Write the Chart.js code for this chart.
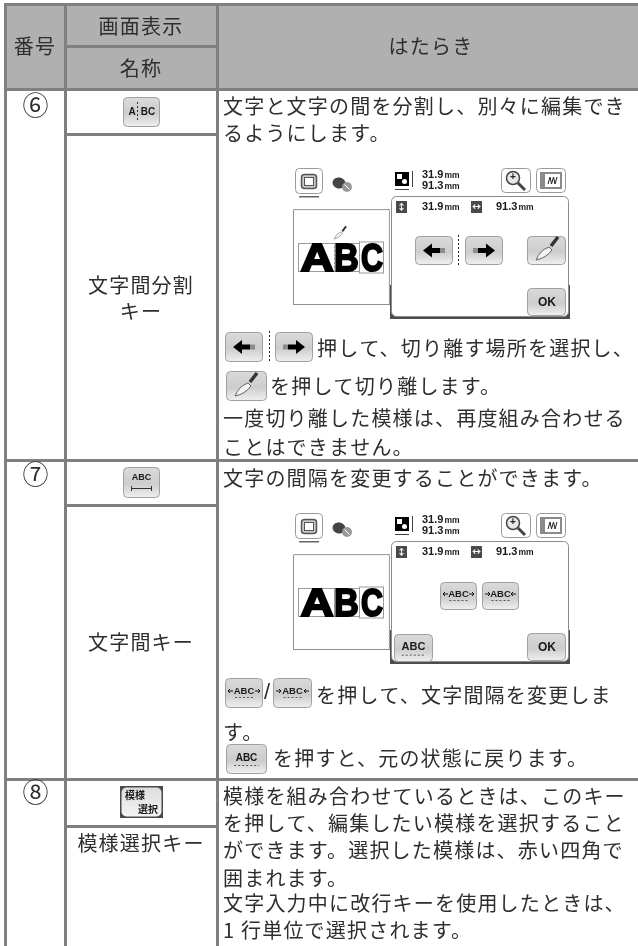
<!DOCTYPE html>
<html lang="ja">
<head>
<meta charset="utf-8">
<title>文字編集キー</title>
<script src="https://cdn.jsdelivr.net/npm/chart.js@4"></script>
<style>
    html, body { margin: 0; padding: 0; background: #fff; }
    canvas { display: block; }
</style>
</head>
<body>
<canvas id="tableChart" width="638" height="946"></canvas>
<script>
// table content
const headerLabels = ['番号', '画面表示', '名称', 'はたらき'];
const rowNumbers = ['⑥', '⑦', '⑧'];
const keyNames = ['文字間分割', 'キー', '文字間キー', '模様選択キー'];
const descriptionLines = [
    '文字と文字の間を分割し、別々に編集でき',
    'るようにします。',
    '押して、切り離す場所を選択し、',
    'を押して切り離します。',
    '一度切り離した模様は、再度組み合わせる',
    'ことはできません。',
    '文字の間隔を変更することができます。',
    'を押して、文字間隔を変更しま',
    'す。',
    'を押すと、元の状態に戻ります。',
    '模様を組み合わせているときは、このキー',
    'を押して、編集したい模様を選択すること',
    'ができます。選択した模様は、赤い四角で',
    '囲まれます。',
    '文字入力中に改行キーを使用したときは、',
    '1 行単位で選択されます。'
];
const screenSizes = ['31.9', '91.3'];
const sizeUnit = 'mm';

// layout, in page pixels
const headerX = [35, 141, 141, 431];
const headerY = [46, 26, 68, 46];
const numberY = [105, 474, 792];
const keyNameY = [285, 311, 642, 843];
const descriptionX = [223, 223, 317, 270, 223, 223, 223, 316, 223, 273, 223, 223, 223, 223, 223, 223];
const descriptionY = [106, 133, 348, 386, 418, 447, 478, 695, 732, 758, 796, 823, 850, 878, 903, 930];
const verticalRules = [5.5, 65.5, 217.5];
const fullRules = [4.5, 89.5, 460.5, 779.5];
const keyRules = [46.5, 134.5, 505.5, 826.5];

const ruleColor = '#808080';
const headerColor = '#b0b0b0';
const textColor = '#2e2e2e';
const jpFont = '"Noto Sans CJK JP", "Noto Sans", sans-serif';
const latinFont = '"Liberation Sans", Arial, sans-serif';

function ruleDataset(x1, y1, x2, y2) {
    return {
        data: [{ x: x1, y: y1 }, { x: x2, y: y2 }],
        borderColor: ruleColor,
        borderWidth: 3,
        pointRadius: 0,
        showLine: true,
        clip: false
    };
}

function buildRules() {
    const rules = [];
    verticalRules.forEach(x => rules.push(ruleDataset(x, 3, x, 946)));
    fullRules.forEach(y => rules.push(ruleDataset(4, y, 638, y)));
    keyRules.forEach(y => rules.push(ruleDataset(67, y, 216, y)));
    return rules;
}

function roundRect(ctx, x, y, w, h, r) {
    ctx.beginPath();
    ctx.roundRect(x, y, w, h, r);
}

function drawButton(ctx, x, y, w, h) {
    const grad = ctx.createLinearGradient(0, y, 0, y + h);
    grad.addColorStop(0, '#dadada');
    grad.addColorStop(0.55, '#cdcdcd');
    grad.addColorStop(1, '#f1f1f1');
    roundRect(ctx, x + 0.5, y + 0.5, w - 1, h - 1, 4);
    ctx.fillStyle = grad;
    ctx.fill();
    ctx.strokeStyle = '#a0a0a0';
    ctx.lineWidth = 1;
    ctx.stroke();
}

function drawOutlineButton(ctx, x, y, w, h) {
    roundRect(ctx, x + 0.5, y + 0.5, w - 1, h - 1, 4);
    ctx.fillStyle = '#fff';
    ctx.fill();
    ctx.strokeStyle = '#9a9a9a';
    ctx.lineWidth = 1;
    ctx.stroke();
}

function drawLabel(ctx, text, x, y, font, color) {
    ctx.font = font;
    ctx.fillStyle = color || '#1a1a1a';
    ctx.textAlign = 'center';
    ctx.textBaseline = 'middle';
    ctx.fillText(text, x, y);
}

function drawArrow(ctx, cx, cy, dir, scale) {
    // short grey tail, black shaft and head
    ctx.save();
    ctx.translate(cx, cy);
    ctx.scale(dir * scale, scale);
    ctx.fillStyle = '#8c8c8c';
    ctx.fillRect(-11, -2.5, 5, 5);
    ctx.fillStyle = '#000';
    ctx.beginPath();
    ctx.moveTo(-6, -2.5);
    ctx.lineTo(2, -2.5);
    ctx.lineTo(2, -7);
    ctx.lineTo(11, 0);
    ctx.lineTo(2, 7);
    ctx.lineTo(2, 2.5);
    ctx.lineTo(-6, 2.5);
    ctx.closePath();
    ctx.fill();
    ctx.restore();
}

function drawKnife(ctx, x, y, scale) {
    // x, y is the tip at lower left
    ctx.save();
    ctx.translate(x, y);
    ctx.scale(scale, scale);
    ctx.strokeStyle = '#666';
    ctx.lineWidth = 1;
    ctx.fillStyle = '#f4f4f4';
    ctx.beginPath();
    ctx.moveTo(0, 0);
    ctx.quadraticCurveTo(4, -10, 13, -13);
    ctx.lineTo(16, -10);
    ctx.quadraticCurveTo(10, -2, 0, 0);
    ctx.closePath();
    ctx.fill();
    ctx.stroke();
    ctx.strokeStyle = '#333';
    ctx.lineWidth = 3.5;
    ctx.beginPath();
    ctx.moveTo(15, -14);
    ctx.lineTo(22, -23);
    ctx.stroke();
    ctx.restore();
}

function drawDashedLine(ctx, x1, y1, x2, y2, color) {
    ctx.save();
    ctx.strokeStyle = color;
    ctx.lineWidth = 1;
    ctx.setLineDash([2, 2]);
    ctx.beginPath();
    ctx.moveTo(x1, y1);
    ctx.lineTo(x2, y2);
    ctx.stroke();
    ctx.restore();
}

function drawSpacingLabel(ctx, x, y, w, inward) {
    // small ABC with arrows on both sides, dotted underline
    const cx = x + w / 2;
    drawLabel(ctx, 'ABC', cx, y - 1, 'bold 9.5px ' + latinFont);
    ctx.strokeStyle = '#111';
    ctx.lineWidth = 1;
    const sides = [-1, 1];
    sides.forEach(s => {
        const a = cx + s * (w / 2 - 8);
        const b = cx + s * (w / 2 - 3);
        const tip = inward ? a : b;
        const back = inward ? 1 : -1;
        ctx.beginPath();
        ctx.moveTo(a, y - 1);
        ctx.lineTo(b, y - 1);
        ctx.moveTo(tip + s * back * 2, y - 3);
        ctx.lineTo(tip, y - 1);
        ctx.lineTo(tip + s * back * 2, y + 1);
        ctx.stroke();
    });
    drawDashedLine(ctx, cx - 9, y + 5.5, cx + 9, y + 5.5, '#555');
}

function drawFrameIcon(ctx, x, y) {
    drawOutlineButton(ctx, x, y, 28, 26);
    ctx.strokeStyle = '#555';
    ctx.lineWidth = 1.5;
    roundRect(ctx, x + 6.5, y + 6.5, 15, 14, 3);
    ctx.fillStyle = '#c9c9c9';
    ctx.fill();
    ctx.stroke();
    ctx.lineWidth = 1;
    ctx.fillStyle = '#fff';
    ctx.fillRect(x + 10, y + 10, 8, 7);
    ctx.strokeRect(x + 9.5, y + 9.5, 9, 8);
    ctx.fillStyle = '#666';
    ctx.fillRect(x + 4, y + 28, 20, 1.5);
}

function drawSpool(ctx, x, y) {
    ctx.fillStyle = '#444';
    ctx.beginPath();
    ctx.ellipse(x, y - 1, 6.5, 5.5, 0.2, 0, Math.PI * 2);
    ctx.fill();
    ctx.fillStyle = '#9a9a9a';
    ctx.beginPath();
    ctx.arc(x + 8, y + 3, 5, 0, Math.PI * 2);
    ctx.fill();
    ctx.strokeStyle = '#fff';
    ctx.lineWidth = 1;
    ctx.beginPath();
    ctx.moveTo(x + 5.5, y + 0.5);
    ctx.lineTo(x + 10.5, y + 5.5);
    ctx.stroke();
}

function drawSizeText(ctx, value, x, y) {
    ctx.textAlign = 'left';
    ctx.textBaseline = 'middle';
    ctx.fillStyle = '#1a1a1a';
    ctx.font = 'bold 11px ' + latinFont;
    ctx.fillText(value, x, y);
    const w = ctx.measureText(value).width;
    ctx.font = 'bold 8.5px ' + latinFont;
    ctx.fillText(sizeUnit, x + w + 1, y + 0.5);
}

function drawBigAbc(ctx, y) {
    // outlined letter boxes, then the heavy letters
    ctx.strokeStyle = '#9a9a9a';
    ctx.lineWidth = 1;
    ctx.strokeRect(298.5, y + 1.5, 36, 28);
    ctx.strokeRect(334.5, y + 1.5, 25, 28);
    ctx.strokeRect(359.5, y, 24, 31);
    ctx.fillStyle = '#000';
    ctx.strokeStyle = '#000';
    ctx.lineJoin = 'miter';
    ctx.lineWidth = 2;
    ctx.textAlign = 'center';
    ctx.textBaseline = 'alphabetic';
    ctx.font = 'bold 39px ' + latinFont;
    const letters = ['A', 'B', 'C'];
    const centers = [317, 346.5, 372];
    const stretch = [1.18, 0.88, 0.78];
    letters.forEach((letter, i) => {
        ctx.save();
        ctx.translate(centers[i], y + 29);
        ctx.scale(stretch[i], 1);
        ctx.strokeText(letter, 0, 0);
        ctx.fillText(letter, 0, 0);
        ctx.restore();
    });
}

function drawScreen(ctx, dy, withCutter) {
    drawFrameIcon(ctx, 295, 168 + dy);
    drawSpool(ctx, 339, 184 + dy);

    // preview field
    ctx.fillStyle = '#fff';
    ctx.fillRect(293, 209 + dy, 96, 95);
    ctx.strokeStyle = '#8f8f8f';
    ctx.lineWidth = 1;
    ctx.strokeRect(293.5, 209.5 + dy, 96, 95);
    drawDashedLine(ctx, 293, 210 + dy, 390, 210 + dy, '#d0d0d0');
    drawDashedLine(ctx, 389, 210 + dy, 389, 304 + dy, '#d0d0d0');
    drawBigAbc(ctx, 242 + dy);
    if (withCutter) {
        drawDashedLine(ctx, 334, 240 + dy, 334, 274 + dy, '#fff');
        drawKnife(ctx, 334, 239 + dy, 0.55);
    }

    // size readout
    ctx.fillStyle = '#000';
    ctx.fillRect(395, 172 + dy, 14, 14);
    ctx.fillStyle = '#fff';
    ctx.fillRect(397, 174 + dy, 5, 5);
    ctx.beginPath();
    ctx.arc(404.5, 181.5 + dy, 2.5, 0, Math.PI * 2);
    ctx.fill();
    ctx.strokeStyle = '#444';
    ctx.lineWidth = 1;
    ctx.beginPath();
    ctx.moveTo(412.5, 171 + dy);
    ctx.lineTo(412.5, 187 + dy);
    ctx.moveTo(395, 189.5 + dy);
    ctx.lineTo(409, 189.5 + dy);
    ctx.stroke();
    drawSizeText(ctx, screenSizes[0], 422, 175 + dy);
    drawSizeText(ctx, screenSizes[1], 422, 186 + dy);

    // zoom and hoop buttons
    drawOutlineButton(ctx, 501, 168 + dy, 30, 25);
    ctx.strokeStyle = '#444';
    ctx.lineWidth = 1.5;
    ctx.fillStyle = '#e8e8e8';
    ctx.beginPath();
    ctx.arc(513, 178 + dy, 6.5, 0, Math.PI * 2);
    ctx.fill();
    ctx.stroke();
    ctx.lineWidth = 3;
    ctx.beginPath();
    ctx.moveTo(518, 183 + dy);
    ctx.lineTo(525, 190 + dy);
    ctx.stroke();
    drawLabel(ctx, '+', 513, 177.5 + dy, 'bold 10px ' + latinFont, '#222');

    drawOutlineButton(ctx, 536, 168 + dy, 30, 25);
    ctx.fillStyle = '#8a8a8a';
    ctx.fillRect(540, 172 + dy, 22, 17);
    ctx.fillStyle = '#fff';
    ctx.fillRect(545, 174 + dy, 15, 13);
    ctx.strokeStyle = '#222';
    ctx.lineWidth = 1;
    ctx.beginPath();
    ctx.moveTo(548, 184 + dy);
    ctx.lineTo(550, 177 + dy);
    ctx.lineTo(551.5, 184 + dy);
    ctx.lineTo(553.5, 177 + dy);
    ctx.lineTo(555, 184 + dy);
    ctx.lineTo(557, 177 + dy);
    ctx.stroke();

    // panel with dark lower corners
    ctx.fillStyle = '#4d4d4d';
    ctx.fillRect(390, 285 + dy, 180, 34);
    roundRect(ctx, 391.5, 196.5 + dy, 177, 120, 5);
    ctx.fillStyle = '#fff';
    ctx.fill();
    ctx.strokeStyle = '#8a8a8a';
    ctx.lineWidth = 1;
    ctx.stroke();

    ctx.fillStyle = '#4a4a4a';
    ctx.fillRect(396, 201 + dy, 11, 12);
    ctx.fillRect(471, 201 + dy, 11, 12);
    drawLabel(ctx, '↕', 401.5, 207 + dy, 'bold 9px ' + jpFont, '#fff');
    drawLabel(ctx, '↔', 476.5, 207 + dy, 'bold 9px ' + jpFont, '#fff');
    drawSizeText(ctx, screenSizes[0], 422, 207 + dy);
    drawSizeText(ctx, screenSizes[1], 496, 207 + dy);

    drawButton(ctx, 527, 288 + dy, 39, 28);
    drawLabel(ctx, 'OK', 547, 303 + dy, 'bold 12px ' + latinFont);
}

function drawCutterButtons(ctx, leftX, midX, rightX, y, h) {
    drawButton(ctx, leftX, y, 38, h);
    drawArrow(ctx, leftX + 19, y + h / 2, -1, 1);
    drawDashedLine(ctx, midX + 0.5, y - 1, midX + 0.5, y + h + 1, '#222');
    drawButton(ctx, rightX, y, 38, h);
    drawArrow(ctx, rightX + 19, y + h / 2, 1, 1);
}

function drawAbcButton(ctx, x, y, w, h, size) {
    drawButton(ctx, x, y, w, h);
    const cx = x + w / 2;
    drawLabel(ctx, 'ABC', cx, y + h / 2 - 1, 'bold ' + size + 'px ' + latinFont);
    drawDashedLine(ctx, cx - w * 0.3, y + h / 2 + size * 0.65, cx + w * 0.3, y + h / 2 + size * 0.65, '#555');
}

function drawIcons(ctx) {
    // row 6 key
    drawButton(ctx, 123, 97, 37, 30);
    drawLabel(ctx, 'A', 132, 112, 'bold 10px ' + latinFont);
    drawLabel(ctx, 'BC', 148, 112, 'bold 10px ' + latinFont);
    drawDashedLine(ctx, 137.5, 102, 137.5, 122, '#333');

    drawScreen(ctx, 0, true);
    drawCutterButtons(ctx, 415, 458, 465, 236, 29);
    drawButton(ctx, 527, 236, 39, 29);
    drawKnife(ctx, 536, 260, 1);

    drawCutterButtons(ctx, 225, 269, 275, 332, 30);
    drawButton(ctx, 226, 371, 41, 30);
    drawKnife(ctx, 235, 396, 1);

    // row 7 key
    drawButton(ctx, 123, 467, 37, 31);
    drawLabel(ctx, 'ABC', 141.5, 478, 'bold 9px ' + latinFont);
    ctx.strokeStyle = '#333';
    ctx.lineWidth = 1;
    ctx.beginPath();
    ctx.moveTo(131, 488.5);
    ctx.lineTo(152, 488.5);
    ctx.moveTo(131.5, 486);
    ctx.lineTo(131.5, 491);
    ctx.moveTo(151.5, 486);
    ctx.lineTo(151.5, 491);
    ctx.stroke();

    drawScreen(ctx, 345, false);
    drawButton(ctx, 440, 582, 37, 28);
    drawSpacingLabel(ctx, 440, 595, 37, false);
    drawButton(ctx, 482, 582, 37, 28);
    drawSpacingLabel(ctx, 482, 595, 37, true);
    drawAbcButton(ctx, 394, 634, 39, 28, 11);

    drawButton(ctx, 225, 678, 38, 30);
    drawSpacingLabel(ctx, 225, 692, 38, false);
    drawLabel(ctx, '/', 267, 693, '22px ' + latinFont, textColor);
    drawButton(ctx, 273, 678, 39, 30);
    drawSpacingLabel(ctx, 273, 692, 39, true);
    drawAbcButton(ctx, 226, 744, 41, 30, 10);

    // row 8 key
    ctx.fillStyle = '#4a4a4a';
    ctx.fillRect(120, 786, 43, 32);
    roundRect(ctx, 121.5, 787.5, 40, 29, 5);
    const grad = ctx.createLinearGradient(0, 787, 0, 817);
    grad.addColorStop(0, '#dcdcdc');
    grad.addColorStop(1, '#f4f4f4');
    ctx.fillStyle = grad;
    ctx.fill();
    drawLabel(ctx, '模様', 135, 795, 'bold 10px ' + jpFont);
    drawLabel(ctx, '選択', 148, 809, 'bold 10px ' + jpFont);
}

const tablePlugin = {
    id: 'tablePlugin',
    beforeDatasetsDraw(chart) {
        const ctx = chart.ctx;
        const x = chart.scales.x;
        const y = chart.scales.y;
        ctx.save();
        ctx.fillStyle = headerColor;
        ctx.fillRect(x.getPixelForValue(4), y.getPixelForValue(3), x.getPixelForValue(634), y.getPixelForValue(86));
        ctx.restore();
    },
    afterDatasetsDraw(chart) {
        const ctx = chart.ctx;
        const x = chart.scales.x;
        const y = chart.scales.y;
        ctx.save();
        ctx.fillStyle = textColor;
        ctx.textBaseline = 'middle';
        ctx.font = '20px ' + jpFont;
        ctx.letterSpacing = '1.2px';

        ctx.textAlign = 'center';
        headerLabels.forEach((label, i) => {
            ctx.fillText(label, x.getPixelForValue(headerX[i]), y.getPixelForValue(headerY[i]));
        });
        keyNames.forEach((label, i) => {
            ctx.fillText(label, x.getPixelForValue(141), y.getPixelForValue(keyNameY[i]));
        });

        ctx.textAlign = 'left';
        descriptionLines.forEach((line, i) => {
            ctx.fillText(line, x.getPixelForValue(descriptionX[i]), y.getPixelForValue(descriptionY[i]));
        });
        ctx.letterSpacing = '0px';

        ctx.textAlign = 'center';
        ctx.font = '26px ' + jpFont;
        rowNumbers.forEach((label, i) => {
            ctx.fillText(label, x.getPixelForValue(35.5), y.getPixelForValue(numberY[i]));
        });

        drawIcons(ctx);
        ctx.restore();
    }
};

new Chart(document.getElementById('tableChart').getContext('2d'), {
    type: 'scatter',
    data: { datasets: buildRules() },
    options: {
        responsive: false,
        animation: false,
        layout: { padding: 0 },
        plugins: {
            legend: { display: false },
            title: { display: false },
            tooltip: { enabled: false }
        },
        scales: {
            x: { type: 'linear', min: 0, max: 638, display: false },
            y: { type: 'linear', min: 0, max: 946, reverse: true, display: false }
        }
    },
    plugins: [tablePlugin]
});
</script>
</body>
</html>
